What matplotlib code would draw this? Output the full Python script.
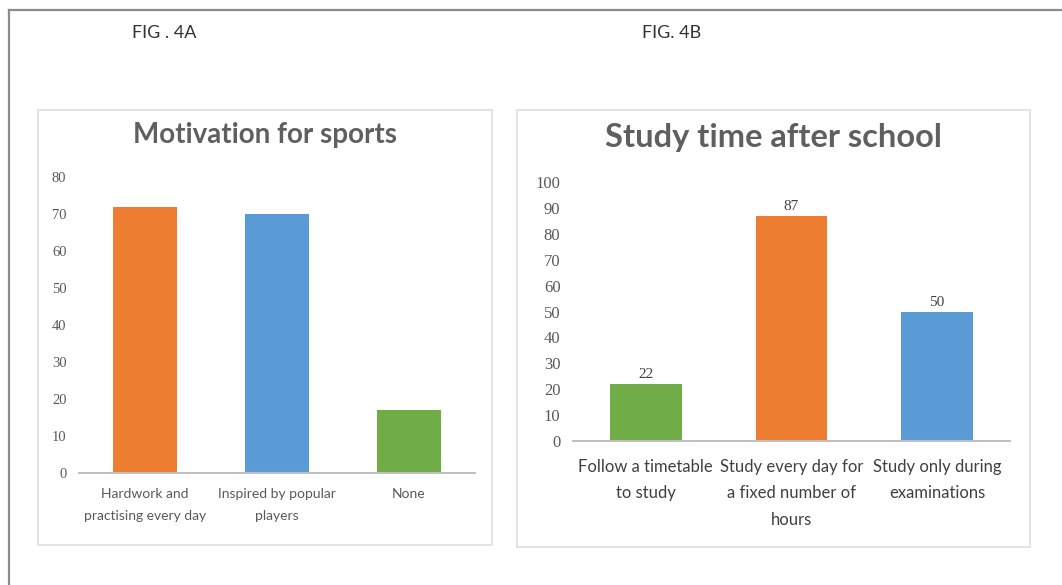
import matplotlib.pyplot as plt
from matplotlib.patches import Rectangle
from matplotlib.lines import Line2D

# FIG. 4A
sports_cats = ["Hardwork and\npractising every day", "Inspired by popular\nplayers", "None"]
sports_vals = [72, 70, 17]
sports_colors = ["#ed7d31", "#5b9bd5", "#70ad47"]

# FIG. 4B
study_cats = ["Follow a timetable\nto study", "Study every day for\na fixed number of\nhours", "Study only during\nexaminations"]
study_vals = [22, 87, 50]
study_colors = ["#70ad47", "#ed7d31", "#5b9bd5"]

W, H = 1062, 585
fig = plt.figure(figsize=(W/100, H/100), dpi=100)
fig.patch.set_facecolor("white")

def fx(px):
    return px / W

def fy(py):
    return 1 - py / H

# outer frame (top and left only)
fig.add_artist(Line2D([fx(8.5), 1], [fy(9.5), fy(9.5)], color="#8c8c8c", lw=1.6, transform=fig.transFigure))
fig.add_artist(Line2D([fx(8.5), fx(8.5)], [fy(9.5), 0], color="#8c8c8c", lw=1.6, transform=fig.transFigure))

# chart boxes
for x0, y0, x1, y1 in [(38, 110, 492, 545), (517, 110, 1030, 547)]:
    fig.add_artist(Rectangle((fx(x0), fy(y1)), fx(x1 - x0), (y1 - y0) / H,
                             fill=False, ec="#dedede", lw=1.2, transform=fig.transFigure))

fig.text(fx(132), fy(33), "FIG . 4A", fontsize=13, family="Lato", color="#333333", va="center", ha="left")
fig.text(fx(642), fy(33), "FIG. 4B", fontsize=13, family="Lato", color="#333333", va="center", ha="left")

grey = "#595959"

# left chart
ax1 = fig.add_axes([fx(79), fy(473), fx(475 - 79), (473 - 177) / H])
ax1.bar(range(3), sports_vals, width=0.49, color=sports_colors)
ax1.set_xlim(-0.5, 2.5)
ax1.set_ylim(0, 80)
ax1.set_yticks(range(0, 81, 10))
ax1.set_xticks(range(3))
ax1.set_xticklabels(sports_cats, fontsize=10, family="Lato", color=grey, linespacing=1.95)
ax1.tick_params(axis="x", length=0, pad=11)
ax1.tick_params(axis="y", length=0, pad=9)
for lab in ax1.get_yticklabels():
    lab.set_fontsize(10.5)
    lab.set_color(grey)
    lab.set_family("Liberation Serif")
fig.text(fx(265), fy(135), "Motivation for sports", fontsize=20, family="Lato", weight="bold",
         color="#5f5f5f", ha="center", va="center")

# right chart
ax2 = fig.add_axes([fx(573), fy(441), fx(1010 - 573), (441 - 182) / H])
bars = ax2.bar(range(3), study_vals, width=0.49, color=study_colors)
ax2.bar_label(bars, padding=2, fontsize=11, family="Liberation Serif", color="#404040")
ax2.set_xlim(-0.5, 2.5)
ax2.set_ylim(0, 100)
ax2.set_yticks(range(0, 101, 10))
ax2.set_xticks(range(3))
ax2.set_xticklabels(study_cats, fontsize=12, family="Lato", color="#404040", linespacing=1.8)
ax2.tick_params(axis="x", length=0, pad=13)
ax2.tick_params(axis="y", length=0, pad=9)
for lab in ax2.get_yticklabels():
    lab.set_fontsize(12)
    lab.set_color(grey)
    lab.set_family("Liberation Serif")
fig.text(fx(773), fy(137), "Study time after school", fontsize=23.5, family="Lato", weight="bold",
         color="#5f5f5f", ha="center", va="center")

for ax in (ax1, ax2):
    for s in ["top", "right", "left"]:
        ax.spines[s].set_visible(False)
    ax.spines["bottom"].set_color("#bfbfbf")
    ax.spines["bottom"].set_linewidth(1.5)
    ax.set_facecolor("none")

fig.savefig("out.png", dpi=100)
